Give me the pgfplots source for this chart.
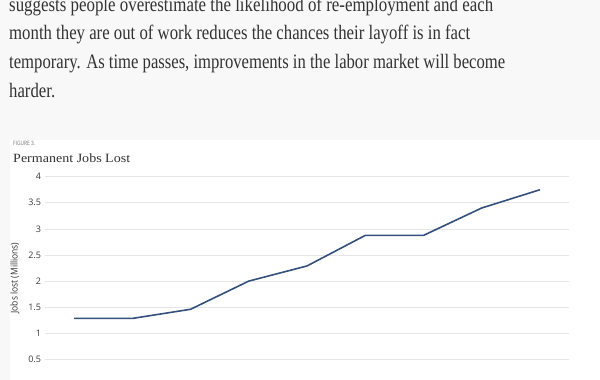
\documentclass[border=0pt]{standalone}
\usepackage{pgfplots}
\pgfplotsset{compat=1.18}
\usepackage{fontspec}
\usepackage{graphicx}
\setmainfont{Liberation Serif}
\newfontfamily\osans{Open Sans}
\definecolor{pagebg}{HTML}{F8F8F8}
\definecolor{txt}{HTML}{333333}
\definecolor{gridc}{HTML}{E6E6E6}
\definecolor{linec}{HTML}{34507C}
\definecolor{ticklab}{HTML}{3A3A3A}
\begin{document}
\begin{tikzpicture}[x=1pt,y=1pt]
\useasboundingbox (0,0) rectangle (600,380);
\clip (0,0) rectangle (600,380);
\fill[pagebg] (0,0) rectangle (600,380);
\fill[white] (10,0) rectangle (600,240);
% paragraph
\begin{scope}[every node/.style={anchor=base west, inner sep=0pt, text=txt, font=\fontsize{20.5}{24}\selectfont}]
\node at (9,380-11.8) {\resizebox{484pt}{\height}{suggests people overestimate the likelihood of re-employment and each}};
\node at (9,380-40.0) {\resizebox{461pt}{\height}{month they are out of work reduces the chances their layoff is in fact}};
\node at (9,380-68.3) {\resizebox{496pt}{\height}{temporary. As time passes, improvements in the labor market will become}};
\node at (9,380-97.3) {\resizebox{46pt}{\height}{harder.}};
\end{scope}
\node[anchor=base west, inner sep=0pt, text=black!55, font=\osans\fontsize{6}{7}\selectfont] at (13,380-145.7) {\resizebox{22pt}{\height}{FIGURE 3.}};
\node[anchor=base west, inner sep=0pt, text=txt, font=\fontsize{12.6}{14}\selectfont] at (13,380-162.7) {\resizebox{117pt}{\height}{Permanent Jobs Lost}};
\node[rotate=90, inner sep=0pt, text=txt, font=\osans\fontsize{9.5}{10}\selectfont] at (15,380-278) {\resizebox{71pt}{\height}{Jobs lost (Millions)}};
\begin{axis}[
  at={(45pt,-5.5pt)}, anchor=south west,
  scale only axis, width=524pt, height=208.8pt,
  xmin=-0.5, xmax=8.5, ymin=0, ymax=4,
  axis line style={draw=none},
  major tick length=0pt,
  xtick=\empty,
  ytick={0,0.5,1,1.5,2,2.5,3,3.5,4},
  ymajorgrids,
  grid style={color=gridc, line width=0.8pt},
  yticklabel style={font=\osans\fontsize{9}{10}\selectfont, text=ticklab, xshift=-0.5pt},
  /pgf/number format/assume math mode=true,
  /pgf/number format/fixed,
  clip=false,
]
\addplot[color=linec, line width=1.6pt, mark=none] coordinates {
(0,1.285) (1,1.285) (2,1.46) (3,2.0) (4,2.29) (5,2.875) (6,2.875) (7,3.40) (8,3.75)
};
\end{axis}
\end{tikzpicture}
\end{document}
